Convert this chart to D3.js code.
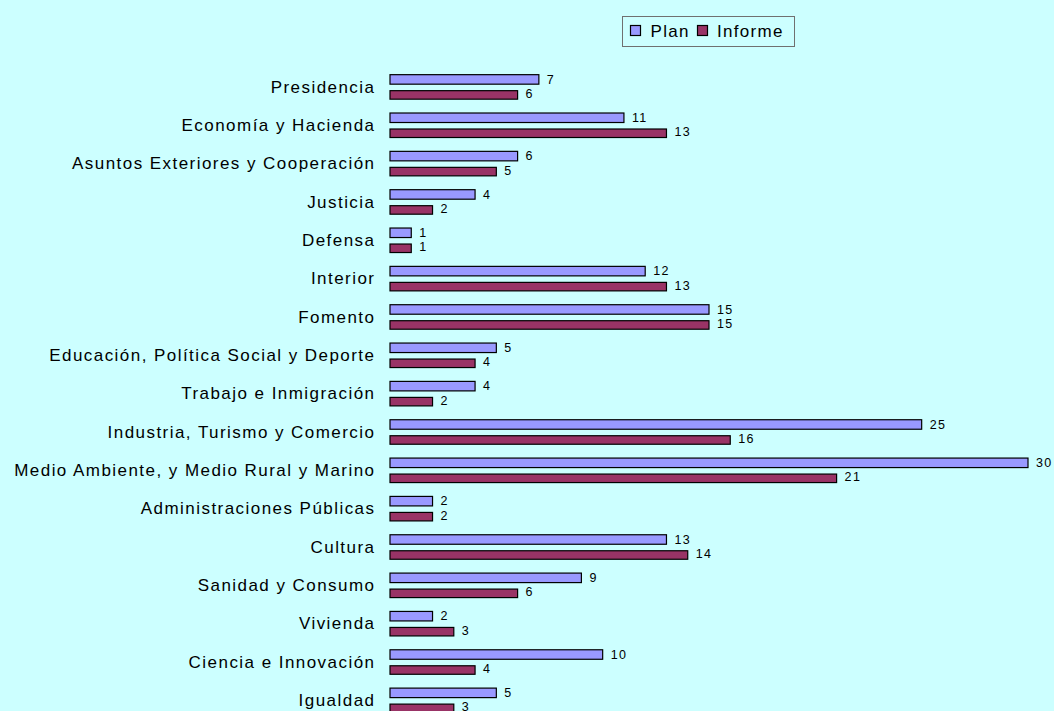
<!DOCTYPE html>
<html>
<head>
<meta charset="utf-8">
<script src="https://cdn.jsdelivr.net/npm/d3@7"></script>
<style>
  html, body { margin: 0; padding: 0; background: #CCFFFF; overflow: hidden; }
  svg { display: block; }
</style>
</head>
<body>
<svg id="chart" width="1054" height="711"></svg>
<script>
// Ministries, in display order (top to bottom)
const categories = [
  "Presidencia",
  "Economía y Hacienda",
  "Asuntos Exteriores y Cooperación",
  "Justicia",
  "Defensa",
  "Interior",
  "Fomento",
  "Educación, Política Social y Deporte",
  "Trabajo e Inmigración",
  "Industria, Turismo y Comercio",
  "Medio Ambiente, y Medio Rural y Marino",
  "Administraciones Públicas",
  "Cultura",
  "Sanidad y Consumo",
  "Vivienda",
  "Ciencia e Innovación",
  "Igualdad"
];
const planValues    = [7, 11, 6, 4, 1, 12, 15, 5, 4, 25, 30, 2, 13, 9, 2, 10, 5];
const informeValues = [6, 13, 5, 2, 1, 13, 15, 4, 2, 16, 21, 2, 14, 6, 3, 4, 3];
const seriesNames = ["Plan", "Informe"];
const seriesColors = ["#9999FF", "#993366"];

const FONT = "'Liberation Sans', Arial, sans-serif";
const svg = d3.select("#chart");
const W = 1054, H = 711;

svg.append("rect").attr("width", W).attr("height", H).attr("fill", "#CCFFFF");

const x = d3.scaleLinear().domain([0, 30]).range([390, 1028]);
const y = d3.scaleBand().domain(categories).range([67.5, 67.5 + 38.34 * categories.length]).paddingInner(0).paddingOuter(0);

const rows = categories.map((c, i) => ({ cat: c, plan: planValues[i], informe: informeValues[i] }));

// Category axis (labels only); letter-spacing trails the last glyph, so shift right by it
const LS = 1.45;
const yAxis = d3.axisLeft(y).tickSize(0).tickPadding(0);
const gAxis = svg.append("g").attr("transform", `translate(${374 + LS},0)`).call(yAxis);
gAxis.select(".domain").remove();
gAxis.selectAll("text")
  .attr("font-family", FONT)
  .attr("font-size", 17)
  .attr("letter-spacing", LS)
  .attr("fill", "#000")
  .attr("dy", "0.35em");

const bars = [
  { key: "plan", off: -12, h: 9.5, color: seriesColors[0], labelDy: -7.5 },
  { key: "informe", off: 4, h: 8.5, color: seriesColors[1], labelDy: 7 }
];

const g = svg.append("g");
bars.forEach(b => {
  g.selectAll("rect." + b.key)
    .data(rows)
    .enter().append("rect")
    .attr("class", b.key)
    .attr("x", x(0))
    .attr("y", d => y(d.cat) + y.bandwidth() / 2 + b.off)
    .attr("width", d => x(d[b.key]) - x(0))
    .attr("height", b.h)
    .attr("fill", b.color)
    .attr("stroke", "#000")
    .attr("stroke-width", 1.2);

  g.selectAll("text." + b.key)
    .data(rows)
    .enter().append("text")
    .attr("class", b.key)
    .attr("x", d => x(d[b.key]) + 8)
    .attr("y", d => y(d.cat) + y.bandwidth() / 2 + b.labelDy)
    .attr("dy", "0.35em")
    .attr("font-family", FONT)
    .attr("font-size", 12.5)
    .attr("letter-spacing", 1.4)
    .attr("fill", "#000")
    .text(d => d[b.key]);
});

// Legend
const legend = svg.append("g");
legend.append("rect")
  .attr("x", 622.5).attr("y", 16.5).attr("width", 172).attr("height", 30)
  .attr("fill", "#CCFFFF").attr("stroke", "#707070").attr("stroke-width", 1);
const legItems = [
  { name: seriesNames[0], color: seriesColors[0], sx: 630, tx: 650.5 },
  { name: seriesNames[1], color: seriesColors[1], sx: 697, tx: 717 }
];
legItems.forEach(it => {
  legend.append("rect")
    .attr("x", it.sx + 0.5).attr("y", 25.5).attr("width", 10).attr("height", 10)
    .attr("fill", it.color).attr("stroke", "#000").attr("stroke-width", 1.2);
  legend.append("text")
    .attr("x", it.tx).attr("y", 31).attr("dy", "0.35em")
    .attr("font-family", FONT)
    .attr("font-size", 17).attr("letter-spacing", 1.3).attr("fill", "#000")
    .text(it.name);
});
</script>
</body>
</html>
